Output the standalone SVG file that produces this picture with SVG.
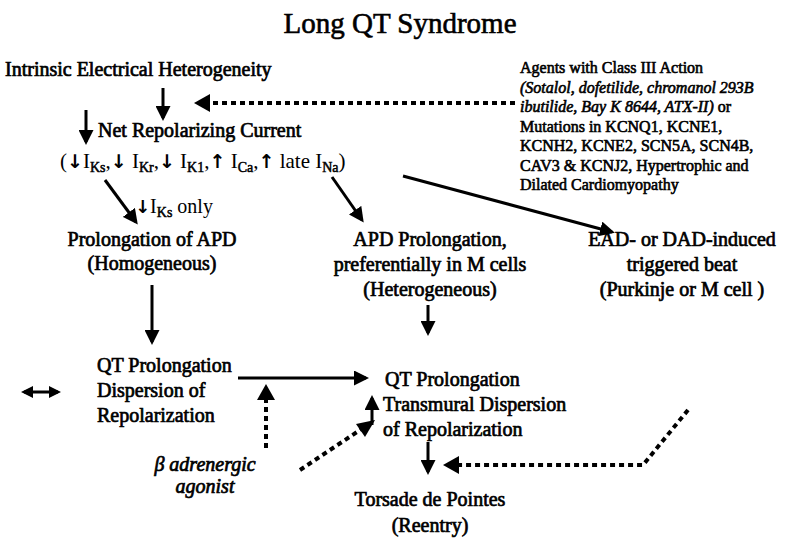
<svg xmlns="http://www.w3.org/2000/svg" width="800" height="550" viewBox="0 0 800 550">
<style>
text{font-family:"Liberation Serif","Times New Roman",serif;fill:#000}
.b{stroke:#000;stroke-width:0.6}
.t{font-size:20px;stroke:#000;stroke-width:0.7}
.r{font-size:16px;stroke:#000;stroke-width:0.6}
.s{font-size:14px;stroke:#000;stroke-width:0.5}
.ar{font-family:"DejaVu Sans",sans-serif;font-weight:bold;stroke:none}
.l{stroke:#000;stroke-width:3;fill:none}
.d{stroke:#000;stroke-width:4;fill:none;stroke-dasharray:5 4}
</style>
<defs>
<marker id="a" markerWidth="5" markerHeight="5" refX="4" refY="2.5" orient="auto" markerUnits="strokeWidth"><path d="M0,0L5,2.5L0,5z"/></marker>
<marker id="a2" markerWidth="4" markerHeight="4" refX="3" refY="2" orient="auto-start-reverse" markerUnits="strokeWidth"><path d="M0,0L4,2L0,4z"/></marker>
</defs>
<text x="400" y="33" text-anchor="middle" class="b" font-size="29" stroke-width="1">Long  QT  Syndrome</text>
<g id="n1"><text x="5" y="76" class="t">Intrinsic Electrical Heterogeneity</text></g>
<g id="n2"><text x="98" y="137" class="t">Net Repolarizing Current</text>
<text x="60" y="168" font-size="21">(<tspan class="ar" font-size="19">↓</tspan>I<tspan class="s" dy="4">Ks</tspan><tspan dy="-4">,</tspan><tspan class="ar" font-size="19">↓</tspan> I<tspan class="s" dy="4">Kr</tspan><tspan dy="-4">,</tspan><tspan class="ar" font-size="19">↓</tspan> I<tspan class="s" dy="4">K1</tspan><tspan dy="-4">,</tspan><tspan class="ar" font-size="19">↑</tspan> I<tspan class="s" dy="4">Ca</tspan><tspan dy="-4">,</tspan><tspan class="ar" font-size="19">↑</tspan> late I<tspan class="s" dy="4">Na</tspan><tspan dy="-4">)</tspan></text>
<text x="135" y="213" font-size="20"><tspan class="ar" font-size="18">↓</tspan>I<tspan class="s" dy="4">Ks</tspan><tspan dy="-4"> only</tspan></text></g>
<g id="n3"><text x="520" y="73" class="r"><tspan>Agents with Class III Action</tspan><tspan x="520" dy="19.5" font-style="italic">(Sotalol, dofetilide, chromanol 293B</tspan><tspan x="520" dy="19.5"><tspan font-style="italic">ibutilide, Bay K 8644, ATX-II)</tspan> or</tspan><tspan x="520" dy="19.5">Mutations in KCNQ1, KCNE1,</tspan><tspan x="520" dy="19.5">KCNH2, KCNE2, SCN5A, SCN4B,</tspan><tspan x="520" dy="19.5">CAV3 &amp; KCNJ2, Hypertrophic and</tspan><tspan x="520" dy="19.5">Dilated Cardiomyopathy</tspan></text></g>
<g id="n4"><text x="152" y="246" text-anchor="middle" class="t"><tspan>Prolongation of APD</tspan><tspan x="152" dy="24">(Homogeneous)</tspan></text></g>
<g id="n5"><text x="430" y="246" text-anchor="middle" class="t"><tspan>APD Prolongation,</tspan><tspan x="430" dy="25">preferentially in M cells</tspan><tspan x="430" dy="25">(Heterogeneous)</tspan></text></g>
<g id="n6"><text x="682" y="246" text-anchor="middle" class="t"><tspan>EAD- or DAD-induced</tspan><tspan x="682" dy="25">triggered beat</tspan><tspan x="682" dy="25">(Purkinje or M cell )</tspan></text></g>
<g id="n7"><text x="97" y="372" class="t"><tspan>QT Prolongation</tspan><tspan x="97" dy="25">Dispersion of</tspan><tspan x="97" dy="25">Repolarization</tspan></text></g>
<g id="n8"><text x="385" y="386" class="t"><tspan>QT Prolongation</tspan><tspan x="383" dy="25">Transmural Dispersion</tspan><tspan x="383" dy="25">of Repolarization</tspan></text></g>
<g id="n9"><text x="205" y="471" text-anchor="middle" class="t" font-style="italic" font-size="18"><tspan>β adrenergic</tspan><tspan x="205" dy="22">agonist</tspan></text></g>
<g id="n10"><text x="430" y="506" text-anchor="middle" class="t"><tspan>Torsade de Pointes</tspan><tspan x="430" dy="26">(Reentry)</tspan></text></g>
<g id="connectors">
<path class="l" d="M163,88V118" marker-end="url(#a)"/>
<path class="d" d="M515,103H208"/><path d="M194,103L210,94V112z"/>
<path class="l" d="M86,110V142" marker-end="url(#a)"/>
<path class="l" d="M105,180L136,222" marker-end="url(#a)"/>
<path class="l" d="M332,177L362,220" marker-end="url(#a)"/>
<path class="l" d="M403,176L612,232" marker-end="url(#a)"/>
<path class="l" d="M152,285V342" marker-end="url(#a)"/>
<path class="l" d="M428,305V333" marker-end="url(#a)"/>
<path class="l" d="M24,392H58" marker-start="url(#a2)" marker-end="url(#a2)"/>
<path class="l" d="M238,378H366" marker-end="url(#a)"/>
<path class="l" d="M372,425V398" marker-end="url(#a)"/>
<path class="d" d="M266,448V398"/><path d="M266,384L257,400H275z"/>
<path class="d" d="M300,470L363,428"/><path d="M375,420L356,424L365,437z"/>
<path class="l" d="M428,442V472" marker-end="url(#a)"/>
<path class="d" d="M688,410L643,465H458"/><path d="M443,465L459,456V474z"/>
</g>
</svg>
